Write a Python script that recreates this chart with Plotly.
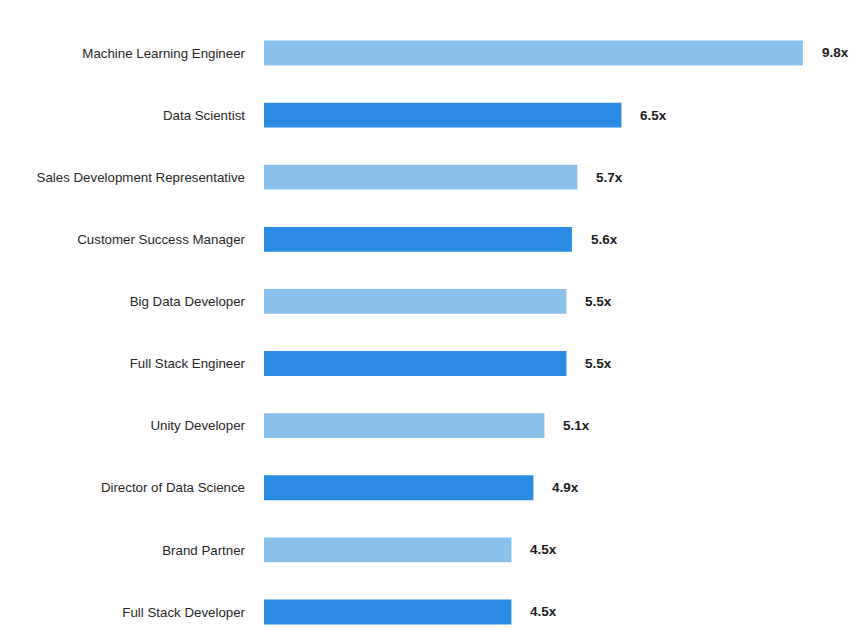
import plotly.graph_objects as go

# Roles and their multiplier values (top to bottom)
roles = [
    "Machine Learning Engineer",
    "Data Scientist",
    "Sales Development Representative",
    "Customer Success Manager",
    "Big Data Developer",
    "Full Stack Engineer",
    "Unity Developer",
    "Director of Data Science",
    "Brand Partner",
    "Full Stack Developer",
]
values = [9.8, 6.5, 5.7, 5.6, 5.5, 5.5, 5.1, 4.9, 4.5, 4.5]
value_labels = ["9.8x", "6.5x", "5.7x", "5.6x", "5.5x", "5.5x", "5.1x", "4.9x", "4.5x", "4.5x"]

LIGHT = "#8AC1EC"
DARK = "#2A8BE3"
colors = [LIGHT if i % 2 == 0 else DARK for i in range(len(roles))]

FONT = "Liberation Sans Narrow, Arial Narrow, Liberation Sans, Arial, sans-serif"

fig = go.Figure(
    go.Bar(
        x=values,
        y=roles,
        orientation="h",
        marker=dict(color=colors, line=dict(width=0)),
        hoverinfo="skip",
    )
)

for role, v, lab in zip(roles, values, value_labels):
    fig.add_annotation(
        x=v, y=role, text=f"<b>{lab}</b>", showarrow=False,
        xanchor="left", xshift=17,
        font=dict(family=FONT, size=13.5, color="#1a1a1a"),
    )

fig.update_layout(
    width=854,
    height=628,
    margin=dict(l=264, r=0, t=0, b=0, autoexpand=False),
    paper_bgcolor="white",
    plot_bgcolor="white",
    bargap=0.6,
    showlegend=False,
    xaxis=dict(range=[0, 10.73], visible=False, fixedrange=True),
    yaxis=dict(
        type="category",
        categoryorder="array",
        categoryarray=roles,
        range=[9.258, -0.853],
        automargin=False,
        showgrid=False,
        zeroline=False,
        showline=False,
        ticks="",
        ticklabelstandoff=18,
        tickfont=dict(family=FONT, size=13.3, color="#262626"),
    ),
)

fig.write_html("out.html")
